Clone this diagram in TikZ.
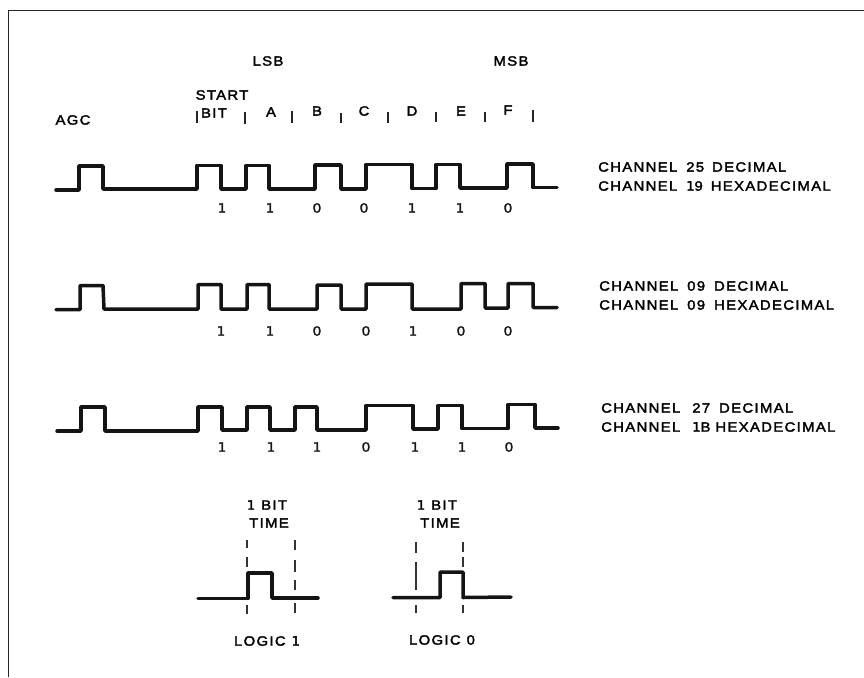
\documentclass[tikz,border=0pt]{standalone}
\usepackage{fontspec}
\setmainfont{Liberation Sans}
\newfontfamily\lab[FakeStretch=1.1,LetterSpace=10,FakeBold=2.2]{Liberation Sans}
\newfontfamily\onefont[FakeBold=2.5]{DejaVu Sans}
\newcommand{\one}{{\onefont\fontsize{13}{13}\selectfont 1}}
\tikzset{
  wave/.style={line width=3.5pt,line join=round,line cap=round,black!92},
  tickmark/.style={line width=1.7pt,black!85},
  dashmark/.style={line width=1.6pt,black!80},
  txt/.style={font=\lab\fontsize{13.5}{13.5}\selectfont,inner sep=0pt,text=black},
  chan/.style={txt,anchor=west},
  bitval/.style={font=\lab\fontsize{13.5}{13.5}\selectfont,inner sep=0pt,text=black!90},
}
\begin{document}
\begin{tikzpicture}[x=1pt,y=-1pt]
\useasboundingbox (0,0) rectangle (864,677);
\fill[white] (0,0) rectangle (864,677);
% frame
\draw[line width=1.4pt,black!85] (8.5,677) -- (8.5,10.5) -- (864,10.5);
% headers
\node[txt] (lsb) at (268,61) {LSB};
\node[txt] (msb) at (511,61) {MSB};
\node[txt] (agc) at (73,120) {AGC};
\node[txt] (start) at (222,95) {START};
\node[txt] (bit) at (214,113) {BIT};
\node[txt] (la) at (271,112) {A};
\node[txt] (lb) at (317,111) {B};
\node[txt] (lc) at (364,111) {C};
\node[txt] (ld) at (412,111) {D};
\node[txt] (le) at (461,111) {E};
\node[txt] (lf) at (508,110) {F};
\foreach \x/\a/\b in {197/111/123,245/112/124,292/111/123,341/113/123,388/112/123,436/112/122,485/112/122,533/110/122}
  \draw[tickmark] (\x,\a) -- (\x,\b);
% waveform 1
\draw[wave] (56,190) -- (79,190) -- (79,166) -- (103,166) -- (103,189) -- (197,189) -- (197,165.5) -- (221,165.5) -- (221,189) -- (246,189) -- (246,165.5) -- (269,165.5) -- (269,189) -- (315,189) -- (315,165) -- (341,165) -- (341,189) -- (366,189) -- (366,164.5) -- (412,164.5) -- (412,188.5) -- (436,188.5) -- (436,164.5) -- (460,164.5) -- (460,188) -- (507,188) -- (507,164) -- (533,164) -- (533,187.5) -- (557,187.5);
% waveform 2
\draw[wave] (56,309.5) -- (80,309.5) -- (80,285.5) -- (103,285.5) -- (104,309) -- (198,309) -- (198,284.5) -- (221,284.5) -- (221,309) -- (247,309) -- (247,284.5) -- (269,284.5) -- (269,309) -- (317,309) -- (317,285) -- (341,285) -- (341,309) -- (366,309) -- (366,284) -- (412,284) -- (412,309) -- (461,309) -- (461,283.5) -- (485,283.5) -- (485,308) -- (508,308) -- (508,283.5) -- (533,283.5) -- (533,307.5) -- (557,307.5);
% waveform 3
\draw[wave] (57,431) -- (81,431) -- (81,407) -- (105,407) -- (105,431) -- (198,431) -- (198,407) -- (222,407) -- (222,430) -- (247,430) -- (247,407) -- (270,407) -- (270,430) -- (295,430) -- (295,407) -- (317,407) -- (317,430) -- (366,430) -- (366,405.5) -- (413,405.5) -- (413,429) -- (438,429) -- (438,405.5) -- (462,405.5) -- (462,428.5) -- (508,428.5) -- (508,404.5) -- (535,404.5) -- (535,428) -- (558,428);
% bits
\foreach \n/\x/\v in {a/222/\one,b/270/\one,c/317/0,d/364/0,e/412/\one,f/460/\one,g/508/0}
  \node[bitval] (ra\n) at (\x,208) {\v};
\foreach \n/\x/\v in {a/221/\one,b/270/\one,c/317/0,d/366/0,e/413/\one,f/461/0,g/508/0}
  \node[bitval] (rb\n) at (\x,331) {\v};
\foreach \n/\x/\v in {a/222/\one,b/271/\one,c/317/\one,d/366/0,e/415/\one,f/462/\one,g/509/0}
  \node[bitval] (rc\n) at (\x,447) {\v};
% channel labels
\node[chan] (c1) at (598,167) {CHANNEL\hspace{9pt}25\hspace{8pt}DECIMAL};
\node[chan] (c2) at (598,186) {CHANNEL\hspace{9pt}\one 9\hspace{8pt}HEXADECIMAL};
\node[chan] (c3) at (599,286) {CHANNEL\hspace{9pt}09\hspace{9pt}DECIMAL};
\node[chan] (c4) at (599,305) {CHANNEL\hspace{9pt}09\hspace{9pt}HEXADECIMAL};
\node[chan] (c5) at (601,408) {CHANNEL\hspace{12pt}27\hspace{9pt}DECIMAL};
\node[chan] (c6) at (601,427) {CHANNEL\hspace{12pt}\one B\hspace{5pt}HEXADECIMAL};
% bit time legends
\node[txt] (t1) at (267,505) {\one\hspace{6pt}BIT};
\node[txt] (t2) at (269,523) {TIME};
\node[txt] (t3) at (437,505) {\one\hspace{6pt}BIT};
\node[txt] (t4) at (440,523) {TIME};
\node[txt] (l1) at (267,641) {LOGIC\hspace{6pt}\one};
\node[txt] (l0) at (442,640) {LOGIC\hspace{6pt}0};
\draw[wave] (198,598.5) -- (248,598.5) -- (248,573) -- (272,573) -- (272,598) -- (318,598);
\draw[wave] (393,597.5) -- (440,597.5) -- (440,572) -- (463,572) -- (463,597.5) -- (511,597);
\foreach \x/\a/\b in {247/540/548,247/557/567,247/605/614,295/540/550,295/560/572,295/580/590,295/603/613,416/542/553,416/562/590,416/605/613,463/542/552,463/557/567,463/605/613}
  \draw[dashmark] (\x,\a) -- (\x,\b);
\end{tikzpicture}
\end{document}
